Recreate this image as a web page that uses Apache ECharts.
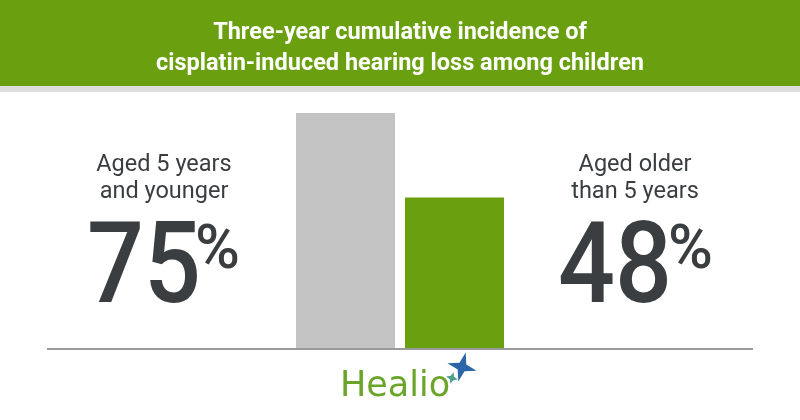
<!DOCTYPE html>
<html>
<head>
<meta charset="utf-8">
<script src="https://cdn.jsdelivr.net/npm/echarts@6/dist/echarts.min.js"></script>
<style>html,body{margin:0;padding:0;background:#fff}#c{width:800px;height:420px}</style>
</head>
<body>
<div id="c"></div>
<script>
var titleLines = ['Three-year cumulative incidence of', 'cisplatin-induced hearing loss among children'];
var categories = ['Aged 5 years\nand younger', 'Aged older\nthan 5 years'];
var values = [75, 48];
var brand = 'Healio';

var GREEN = '#6aa00f', GRAY_BAR = '#c3c3c3', TXT = '#3a3e40';

function star(cx, cy, R, r, rot) {
  var pts = [];
  for (var i = 0; i < 8; i++) {
    var a = rot + i * Math.PI / 4;
    var rad = (i % 2 === 0) ? R : r;
    pts.push([cx + rad * Math.cos(a), cy + rad * Math.sin(a)]);
  }
  return pts;
}

var chart = echarts.init(document.getElementById('c'), null, {renderer: 'canvas'});
var option = {
  animation: false,
  backgroundColor: '#ffffff',
  grid: {left: 291, width: 218, top: 113, height: 235},
  xAxis: {type: 'category', data: categories, show: false},
  yAxis: {type: 'value', min: 0, max: 75, show: false},
  series: [{
    type: 'bar',
    barWidth: 99,
    data: values.map(function (v, i) {
      return {value: v, itemStyle: {color: i === 0 ? GRAY_BAR : GREEN}};
    })
  }],
  graphic: [
    {type: 'rect', shape: {x: 0, y: 0, width: 800, height: 86}, style: {fill: GREEN}, z: -1},
    {type: 'rect', shape: {x: 0, y: 86, width: 800, height: 6}, style: {fill: '#dedede'}, z: -1},
    {type: 'text', x: 400, y: 33, style: {text: titleLines[0], fill: '#fff', font: 'bold 23.5px Roboto', textAlign: 'center', textVerticalAlign: 'middle'}},
    {type: 'text', x: 400, y: 64, style: {text: titleLines[1], fill: '#fff', font: 'bold 23.5px Roboto', textAlign: 'center', textVerticalAlign: 'middle'}},
    {type: 'line', shape: {x1: 47, y1: 349, x2: 753, y2: 349}, style: {stroke: '#9a9a9a', lineWidth: 2}, z: 10},
    {type: 'text', x: 164, y: 179, style: {text: categories[0], fill: TXT, font: '23.5px Roboto', lineHeight: 27, textAlign: 'center', textVerticalAlign: 'middle'}},
    {type: 'text', x: 635, y: 179, style: {text: categories[1], fill: TXT, font: '23.5px Roboto', lineHeight: 27, textAlign: 'center', textVerticalAlign: 'middle'}},
    {type: 'text', x: 201, y: 273, scaleX: 0.88, originX: 0, style: {text: String(values[0]), fill: TXT, font: '500 114px Roboto', textAlign: 'right', textVerticalAlign: 'middle'}},
    {type: 'text', x: 195, y: 253, style: {text: '%', fill: TXT, font: '500 61px Roboto', textAlign: 'left', textVerticalAlign: 'middle'}},
    {type: 'text', x: 672, y: 273, scaleX: 0.88, originX: 0, style: {text: String(values[1]), fill: TXT, font: '500 114px Roboto', textAlign: 'right', textVerticalAlign: 'middle'}},
    {type: 'text', x: 668, y: 253, style: {text: '%', fill: TXT, font: '500 61px Roboto', textAlign: 'left', textVerticalAlign: 'middle'}},
    {type: 'text', x: 340, y: 387, style: {text: brand, fill: '#6aa52a', font: '35px "DejaVu Sans"', textAlign: 'left', textVerticalAlign: 'middle'}},
    {type: 'polygon', shape: {points: star(462, 367, 15, 5, -Math.PI / 2 + 0.25)}, style: {fill: '#2a66a8'}},
    {type: 'polygon', shape: {points: star(452, 378, 6, 2.5, -Math.PI / 2 + 0.25)}, style: {fill: '#4fa08a'}}
  ]
};
chart.setOption(option);
</script>
</body>
</html>
